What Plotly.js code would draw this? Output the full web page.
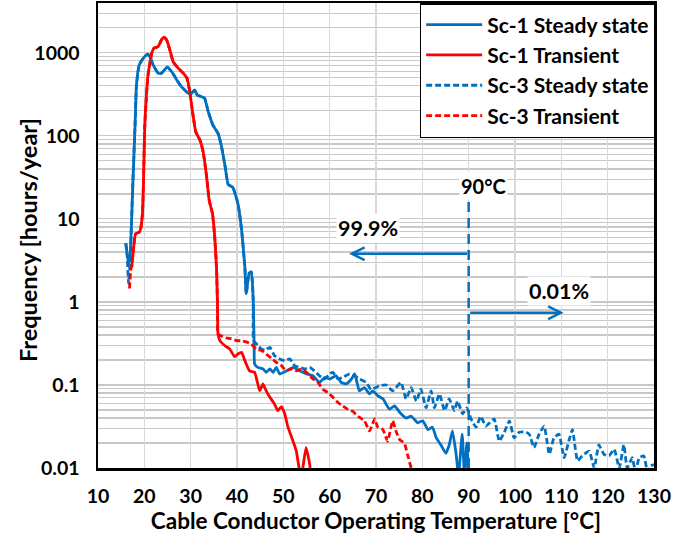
<!DOCTYPE html>
<html>
<head>
<meta charset="utf-8">
<script src="https://cdn.plot.ly/plotly-3.0.1.min.js"></script>
<style>html,body{margin:0;padding:0;background:#fff;}#chart{width:691px;height:535px;}</style>
</head>
<body>
<div id="chart"></div>
<script>
// Sc-1 Steady state
var sc1SteadyT = [16.0,16.3,16.6,16.9,17.2,17.5,18.0,18.3,18.9,19.8,
  20.7,21.2,21.9,23.0,23.7,24.9,25.9,27.0,28.0,29.5,
  30.2,30.9,31.4,32.3,33.0,33.8,34.8,35.9,36.6,37.4,
  38.1,39.1,40.2,41.0,41.7,42.0,42.6,43.1,43.5,43.7,
  43.8,44.5,45.6,46.3,47.1,47.8,48.5,49.2,50.7,52.1,
  53.5,55.0,56.4,57.8,58.9,60.0,61.4,62.5,63.6,64.7,
  65.4,66.4,67.5,68.6,69.3,70.4,71.5,72.9,74.0,75.1,
  76.5,77.6,79.0,80.1,81.2,82.2,83.0,84.0,85.1,85.8,
  86.5,87.3,87.8,88.6,89.1,89.6,90.0];
var sc1SteadyF = [5.1,3.8,2.9,3.3,8,25,135,411,716,863,
  964,902,716,569,569,672,595,472,392,326,
  326,357,311,297,284,195,135,107,77,44,
  26,24,15.3,7.3,2.6,1.25,2.2,2.3,1.04,0.3,
  0.179,0.163,0.156,0.142,0.156,0.142,0.163,0.136,0.148,0.163,
  0.148,0.136,0.129,0.107,0.123,0.118,0.129,0.107,0.103,0.118,
  0.136,0.085,0.093,0.078,0.085,0.074,0.068,0.051,0.056,0.047,
  0.040,0.042,0.035,0.037,0.029,0.031,0.023,0.019,0.015,0.019,
  0.028,0.0146,0.008,0.0255,0.008,0.02,0.008];

// Sc-1 Transient
var sc1TransT = [17.3,17.6,18.1,18.9,19.2,19.6,19.8,20.1,20.8,21.6,
  22.1,23.0,23.7,24.2,24.8,25.5,26.2,27.3,28.4,29.2,
  29.8,30.4,31.1,32.0,32.7,33.4,34.0,34.7,35.2,35.6,
  35.8,35.9,36.3,37.4,38.4,39.5,40.2,41.0,41.7,42.7,
  43.8,44.9,45.6,46.3,47.1,48.1,48.8,49.6,50.3,51.0,
  52.1,52.8,53.4,53.9,54.9,55.7,56.0];
var sc1TransF = [2.7,4.0,6.6,6.95,7.6,11.6,25.5,135,542,991,
  1140,1192,1436,1549,1436,1087,785,653,569,495,
  341,195,112,89,64,33.6,16.8,11.6,6.0,2.4,
  0.86,0.41,0.342,0.297,0.272,0.219,0.236,0.247,0.196,0.148,
  0.142,0.085,0.103,0.085,0.071,0.059,0.049,0.055,0.045,0.031,
  0.021,0.016,0.010,0.008,0.0176,0.011,0.007];

// Sc-3 Steady state
var sc3SteadyT = [16.0,16.3,16.6,16.9,17.2,17.5,18.0,18.3,18.9,19.8,
  20.7,21.2,21.9,23.0,23.7,24.9,25.9,27.0,28.0,29.5,
  30.2,30.9,31.4,32.3,33.0,33.8,34.8,35.9,36.6,37.4,
  38.1,39.1,40.2,41.0,41.7,42.0,42.6,43.1,43.5,43.6,
  44.5,45.3,46.2,47.1,48.1,49.2,50.3,51.4,52.4,53.5,
  54.6,55.7,56.7,57.8,58.9,60.0,60.7,61.8,62.8,64.3,
  65.4,66.4,67.9,68.9,70.0,70.7,72.2,73.6,75.4,76.5,
  77.6,78.7,79.7,80.8,81.9,82.6,83.7,84.8,85.8,86.9,
  87.6,88.7,89.6,90.5,91.6,92.6,93.7,95.5,96.6,97.7,
  98.8,99.8,100.9,102.4,103.1,104.1,105.2,106.3,107.4,108.4,
  109.5,110.6,111.7,112.4,113.5,114.5,116.0,117.1,118.1,119.2,
  120.3,121.4,122.5,123.5,124.2,125.3,126.0,126.8,127.8,128.6,
  129.3,130.0];
var sc3SteadyF = [5.1,3.5,1.67,3.0,8,25,135,411,716,863,
  964,902,716,569,569,672,595,472,392,326,
  326,357,311,297,284,195,135,107,77,44,
  26,24,15.3,7.3,2.6,1.25,2.2,2.3,1.04,0.34,
  0.30,0.27,0.265,0.284,0.225,0.206,0.196,0.206,0.171,0.163,
  0.156,0.163,0.148,0.129,0.118,0.136,0.142,0.118,0.123,0.136,
  0.129,0.118,0.107,0.088,0.093,0.098,0.100,0.085,0.107,0.068,
  0.093,0.064,0.089,0.053,0.085,0.053,0.078,0.049,0.068,0.049,
  0.064,0.045,0.053,0.039,0.031,0.042,0.032,0.039,0.021,0.027,
  0.037,0.023,0.027,0.027,0.0255,0.0176,0.0255,0.032,0.0146,0.023,
  0.0255,0.0133,0.022,0.029,0.0122,0.014,0.016,0.010,0.019,0.0146,
  0.014,0.0168,0.010,0.019,0.010,0.0133,0.009,0.0133,0.014,0.009,
  0.0106,0.011];

// Sc-3 Transient
var sc3TransT = [16.8,17.1,17.3,17.6,18.1,18.9,19.2,19.6,19.8,20.1,
  20.8,21.6,22.1,23.0,23.7,24.2,24.8,25.5,26.2,27.3,
  28.4,29.2,29.8,30.4,31.1,32.0,32.7,33.4,34.0,34.7,
  35.2,35.6,35.8,35.9,36.6,37.7,38.8,39.9,41.0,42.0,
  43.1,44.2,45.3,46.3,47.4,48.5,49.6,50.6,51.7,52.8,
  53.9,55.0,56.4,57.5,58.5,59.6,60.7,61.8,62.8,63.9,
  65.0,66.1,67.5,68.6,69.7,70.4,71.5,72.5,73.6,74.3,
  75.1,76.1,76.8,77.6,78.3];
var sc3TransF = [1.45,2.5,2.7,4.0,6.6,6.95,7.6,11.6,25.5,135,
  542,991,1140,1192,1436,1549,1436,1087,785,653,
  569,495,341,195,112,89,64,33.6,16.8,11.6,
  6.0,2.4,0.86,0.41,0.39,0.37,0.36,0.342,0.34,0.33,
  0.31,0.27,0.26,0.236,0.211,0.187,0.171,0.148,0.156,0.148,
  0.156,0.142,0.118,0.107,0.089,0.081,0.071,0.0615,0.056,0.051,
  0.048,0.042,0.037,0.028,0.039,0.031,0.029,0.021,0.037,0.028,
  0.022,0.020,0.0146,0.010,0.008];

var seriesNames = ['Sc-1 Steady state','Sc-1 Transient','Sc-3 Steady state','Sc-3 Transient'];
var xTicks = [10,20,30,40,50,60,70,80,90,100,110,120,130];
var yTickVals = [0.01,0.1,1,10,100,1000];
var yTickText = ['0.01','0.1','1','10','100','1000'];

var BLUE = '#0070C0', RED = '#FF0000';
var FONT = 'Lato, "Open Sans", sans-serif';

function tr(x, y, name, color, dash, grp) {
  return {x: x, y: y, name: name, type: 'scatter', mode: 'lines',
    line: {color: color, width: 2.8, dash: dash, shape: 'spline', smoothing: 0.4},
    legendgroup: grp};
}
var data = [
  tr(sc1SteadyT, sc1SteadyF, seriesNames[0], BLUE, 'solid', 'a'),
  tr(sc1TransT, sc1TransF, seriesNames[1], RED, 'solid', 'b'),
  tr(sc3SteadyT, sc3SteadyF, seriesNames[2], BLUE, '6px,3px', 'c'),
  tr(sc3TransT, sc3TransF, seriesNames[3], RED, '6px,3px', 'd')
];

var txtFont = {family: FONT, size: 21.5, color: '#000', weight: 'bold'};
var layout = {
  width: 691, height: 535,
  margin: {l: 98, r: 37, t: 3, b: 67},
  paper_bgcolor: '#fff', plot_bgcolor: '#fff',
  font: {family: FONT, color: '#000'},
  showlegend: true,
  legend: {x: 1.003, xanchor: 'right', y: 1, yanchor: 'top',
    bgcolor: '#fff', bordercolor: '#000', borderwidth: 1.5,
    font: {family: FONT, size: 21, color: '#000', weight: 'bold'},
    tracegroupgap: 0, itemwidth: 56},
  xaxis: {range: [10, 130], tickmode: 'array', tickvals: xTicks,
    showgrid: true, gridcolor: '#d9d9d9', gridwidth: 1.5,
    showline: true, linecolor: '#000', linewidth: 2.5, mirror: true,
    zeroline: false, ticks: '', ticklabelstandoff: 9,
    tickfont: {family: FONT, size: 19.5, color: '#000', weight: 'bold'},
    title: {text: 'Cable Conductor Operating Temperature [°C]', standoff: 4,
      font: {family: FONT, size: 22.5, color: '#000', weight: 'bold'}}},
  yaxis: {type: 'log', range: [-2, 3.6], tickmode: 'array', tickvals: yTickVals, ticktext: yTickText,
    showgrid: true, gridcolor: '#c8c8c8', gridwidth: 1.2,
    minor: {dtick: 'D1', showgrid: true, gridcolor: '#c8c8c8', gridwidth: 1.2, ticks: ''},
    showline: true, linecolor: '#000', linewidth: 2.5, mirror: true,
    zeroline: false, ticks: '', ticklabelstandoff: 12,
    tickfont: {family: FONT, size: 19.5, color: '#000', weight: 'bold'}},
  shapes: [
    {type: 'line', xref: 'x', yref: 'y', x0: 90, x1: 90, y0: 0.01, y1: 16,
      line: {color: BLUE, width: 2.5, dash: '10px,6px'}}
  ],
  annotations: [
    {xref: 'paper', yref: 'paper', x: -0.126, y: 0.49, xanchor: 'center', yanchor: 'middle',
      text: 'Frequency [hours/year]', textangle: -90,
      showarrow: false, font: {family: FONT, size: 23.5, color: '#000', weight: 'bold'}},
    {xref: 'x', yref: 'y', x: 93.2, y: Math.log10(25), text: '90°C', showarrow: false,
      font: {family: FONT, size: 20, color: '#000', weight: 'bold'}, bgcolor: '#fff'},
    {xref: 'x', yref: 'y', x: 68.2, y: Math.log10(7.7), text: '99.9%', showarrow: false,
      font: txtFont, bgcolor: '#fff'},
    {xref: 'x', yref: 'y', x: 109.6, y: Math.log10(1.37), text: '0.01%', showarrow: false,
      font: txtFont, bgcolor: '#fff'},
    {xref: 'x', yref: 'y', x: 64.2, y: Math.log10(3.8), axref: 'x', ayref: 'y', ax: 90, ay: Math.log10(3.8),
      text: '', showarrow: true, arrowhead: 5, arrowsize: 1, arrowwidth: 2.5, arrowcolor: BLUE},
    {xref: 'x', yref: 'y', x: 110.5, y: Math.log10(0.74), axref: 'x', ayref: 'y', ax: 90, ay: Math.log10(0.74),
      text: '', showarrow: true, arrowhead: 5, arrowsize: 1, arrowwidth: 2.5, arrowcolor: BLUE}
  ]
};

Plotly.newPlot('chart', data, layout, {displayModeBar: false, staticPlot: true});
</script>
</body>
</html>
